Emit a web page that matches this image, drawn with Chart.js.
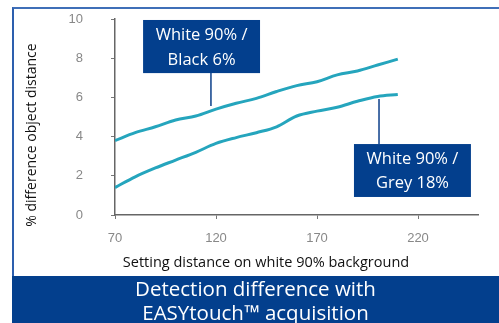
<!DOCTYPE html>
<html>
<head>
<meta charset="utf-8">
<script src="https://cdn.jsdelivr.net/npm/chart.js@4/dist/chart.umd.min.js"></script>
<style>
  html, body { margin: 0; padding: 0; background: #fff; }
  body { width: 499px; height: 323px; position: relative; overflow: hidden; font-family: 'Open Sans', sans-serif; }
  #frame { position: absolute; left: 12px; top: 7px; right: 0; height: 269px; border-top: 2px solid #3f6fb8; border-left: 2px solid #2d5fae; }
  #wrap { position: absolute; left: 0; top: 0; width: 499px; height: 276px; }
  #banner { position: absolute; left: 12px; top: 276px; width: 487px; height: 47px; background: #033f8d; color: #fff; text-align: center; font-size: 20.5px; line-height: 24px; }
</style>
</head>
<body>
<div id="frame"></div>
<div id="wrap"><canvas id="chart" width="499" height="276"></canvas></div>
<div id="banner">Detection difference with<br>EASYtouch™ acquisition</div>
<script>
// setting distance (x) and % difference for each target
const distances = [70, 80, 90, 100, 110, 120, 130, 140, 150, 160, 170, 180, 190, 200, 210];
const black6 = [3.8, 4.2, 4.5, 4.85, 5.05, 5.4, 5.7, 5.95, 6.3, 6.6, 6.8, 7.15, 7.35, 7.65, 7.95];
const grey18 = [1.4, 1.95, 2.4, 2.8, 3.2, 3.65, 3.95, 4.2, 4.5, 5.05, 5.3, 5.5, 5.8, 6.05, 6.15];
const xTicks = [70, 120, 170, 220];
const yTicks = [0, 2, 4, 6, 8, 10];
const seriesNames = ['White 90% / Black 6%', 'White 90% / Grey 18%'];
const labelLines = [['White 90% /', 'Black 6%'], ['White 90% /', 'Grey 18%']];
const xTitle = 'Setting distance on white 90% background';
const yTitle = '% difference object distance';

// callout boxes, in data units: [xLeft, xRight, yTop, yBottom], connector x, connector end y
const callouts = [
  { box: [83.9, 141.8, 9.95, 7.24], lx: 117.5, ly: 5.56 },
  { box: [188.3, 246.2, 3.62, 0.92], lx: 200.7, ly: 5.92 }
];

const toPts = ys => distances.map((x, i) => ({ x, y: ys[i] }));

const calloutPlugin = {
  id: 'callouts',
  afterDatasetsDraw(chart) {
    const { ctx, scales: { x, y } } = chart;
    ctx.save();
    callouts.forEach((c, i) => {
      const l = x.getPixelForValue(c.box[0]), r = x.getPixelForValue(c.box[1]);
      const t = y.getPixelForValue(c.box[2]), b = y.getPixelForValue(c.box[3]);
      const cx = x.getPixelForValue(c.lx), cy = y.getPixelForValue(c.ly);
      ctx.strokeStyle = '#0b3f8a';
      ctx.lineWidth = 1.5;
      ctx.beginPath();
      ctx.moveTo(cx, cy);
      ctx.lineTo(cx, cy < t ? t : b);
      ctx.stroke();
      ctx.fillStyle = '#033f8d';
      ctx.fillRect(l, t, r - l, b - t);
      ctx.fillStyle = '#fff';
      ctx.font = '16.5px "Open Sans", sans-serif';
      ctx.textAlign = 'center';
      ctx.textBaseline = 'middle';
      const mid = (l + r) / 2, h = b - t;
      ctx.fillText(labelLines[i][0], mid, t + h * 0.29);
      ctx.fillText(labelLines[i][1], mid, t + h * 0.75);
    });
    // axis titles
    ctx.fillStyle = '#111';
    ctx.textAlign = 'center';
    ctx.textBaseline = 'middle';
    ctx.font = '14.5px "Open Sans", sans-serif';
    ctx.fillText(xTitle, 266, 263);
    ctx.translate(32, 135);
    ctx.rotate(-Math.PI / 2);
    ctx.font = '14px "Open Sans", sans-serif';
    ctx.fillText(yTitle, 0, 0);
    ctx.restore();
  }
};

const tickFont = { family: 'Liberation Sans', size: 13 };

new Chart(document.getElementById('chart'), {
  type: 'line',
  data: {
    datasets: [
      { label: seriesNames[0], data: toPts(black6), borderColor: '#25a5bd', borderWidth: 3, pointRadius: 0, tension: 0.35, fill: false },
      { label: seriesNames[1], data: toPts(grey18), borderColor: '#25a5bd', borderWidth: 3, pointRadius: 0, tension: 0.35, fill: false }
    ]
  },
  options: {
    responsive: false,
    animation: false,
    layout: { padding: { top: 19, right: 20.4, left: 0, bottom: 0 } },
    plugins: { legend: { display: false }, tooltip: { enabled: false } },
    scales: {
      x: {
        type: 'linear', min: 70, max: 250,
        afterBuildTicks: s => { s.ticks = xTicks.map(v => ({ value: v })); },
        afterFit: s => { s.height = 61; s.paddingLeft = 0; s.paddingRight = 0; },
        grid: { drawOnChartArea: false, tickLength: 4, color: '#777' },
        border: { color: '#666', width: 1.5 },
        ticks: { color: '#888', font: tickFont, padding: 12, maxRotation: 0 }
      },
      y: {
        min: 0, max: 10,
        afterBuildTicks: s => { s.ticks = yTicks.map(v => ({ value: v })); },
        afterFit: s => { s.width = 115; s.paddingTop = 0; s.paddingBottom = 0; },
        grid: { drawOnChartArea: false, tickLength: 4, color: '#777' },
        border: { color: '#666', width: 1.5 },
        ticks: { color: '#888', font: tickFont, padding: 28 }
      }
    }
  },
  plugins: [calloutPlugin]
});
</script>
</body>
</html>
